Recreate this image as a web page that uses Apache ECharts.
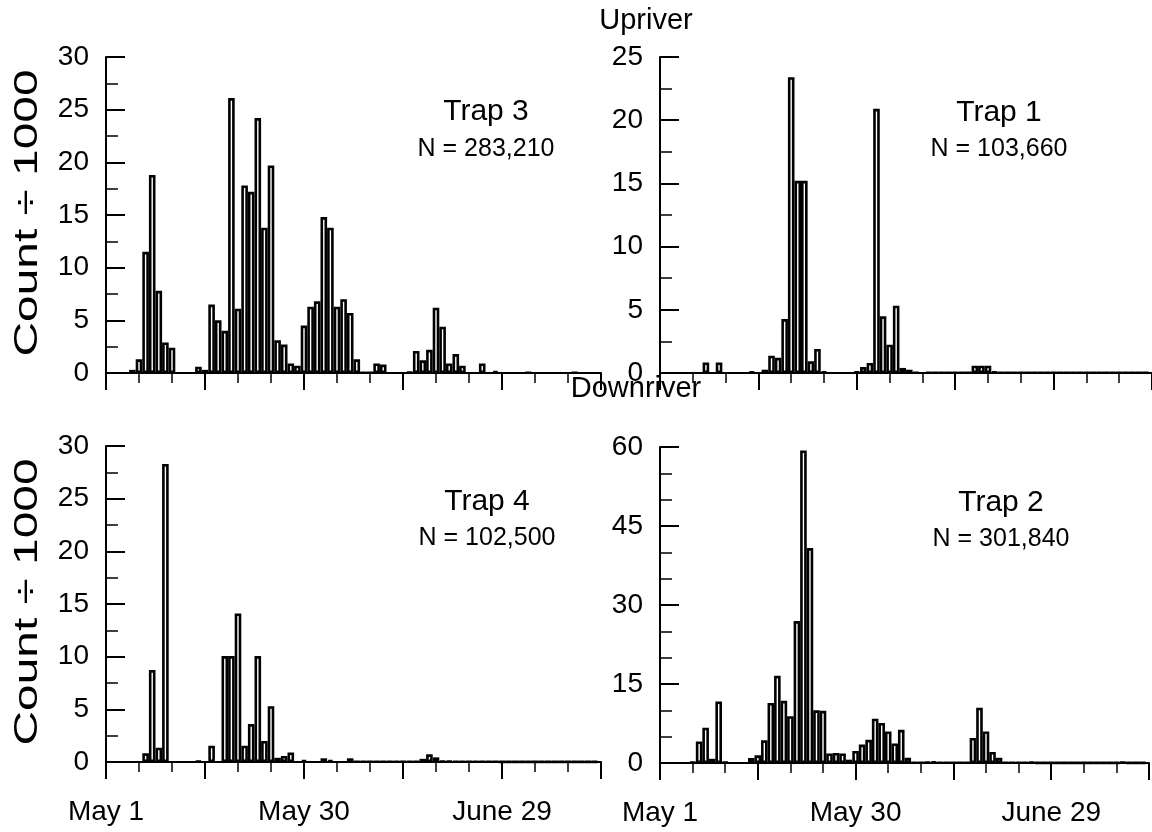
<!DOCTYPE html>
<html><head><meta charset="utf-8">
<script src="https://cdn.jsdelivr.net/npm/echarts@6/dist/echarts.min.js"></script>
<style>html,body{margin:0;padding:0;background:#fff}#c{width:1152px;height:832px}</style>
</head><body><div id="c"></div>
<script>
// Daily counts (thousands), index = days after May 1 (0..74)
const trap3 = [
  0,0,0,0,0.3,1.3,11.5,18.8,7.8,2.9,
  2.4,0,0,0,0.6,0.3,6.5,5.0,4.0,26.1,
  6.1,17.8,17.2,24.2,13.8,19.7,3.1,2.7,0.9,0.7,
  4.5,6.3,6.8,14.8,13.8,6.3,7.0,5.7,1.3,0.05,
  0.05,0.9,0.8,0,0,0,0.1,2.1,1.2,2.2,
  6.2,4.4,0.9,1.8,0.7,0,0,0.9,0,0.2,
  0,0,0,0,0.05,0,0,0,0,0,
  0,0.05,0,0,0
];
const trap1 = [
  0,0,0,0,0,0,0,0.84,0,0.84,
  0,0,0,0,0.13,0,0.26,1.37,1.2,4.27,
  23.4,15.2,15.2,0.92,1.9,0.13,0,0,0,0,
  0.1,0.47,0.8,20.9,4.48,2.24,5.33,0.4,0.26,0.05,
  0,0.05,0.03,0.03,0.03,0.03,0.03,0.03,0.58,0.58,
  0.58,0.1,0.03,0.03,0.03,0.03,0.03,0.03,0.03,0.03,
  0.03,0.03,0.03,0.03,0.03,0.03,0.03,0.03,0.03,0.03,
  0.03,0.03,0.03,0.03,0.03
];
const trap4 = [
  0,0,0,0,0,0,0.82,8.73,1.36,28.3,
  0,0,0,0,0.1,0,1.55,0,10.06,10.06,
  14.1,1.55,3.6,10.06,2.0,5.3,0.4,0.57,0.9,0,
  0.2,0,0,0.35,0.2,0,0,0.35,0.05,0.05,
  0.05,0.05,0.05,0.05,0.05,0.05,0.05,0.05,0.3,0.73,
  0.44,0.1,0.1,0.05,0.05,0.05,0.05,0.05,0.05,0.05,
  0.03,0.03,0.03,0.03,0.03,0.03,0.03,0.03,0.03,0.03,
  0.03,0.03,0.03,0.03,0.03
];
const trap2 = [
  0,0,0,0,0,0.2,4.1,6.7,0.8,11.7,
  0.2,0,0,0,0.95,1.46,4.3,11.4,16.55,11.8,
  8.9,26.95,59.35,40.8,10.0,9.9,1.8,1.9,1.8,0.63,
  2.3,3.5,4.4,8.4,7.6,6.0,3.7,6.3,1.0,0.1,
  0.1,0.2,0.3,0.1,0.1,0.1,0.1,0.1,4.75,10.5,
  6.0,2.1,1.0,0.1,0.1,0.1,0.1,0.2,0.05,0.05,
  0.05,0.05,0.05,0.05,0.05,0.05,0.05,0.05,0.05,0.05,
  0.05,0.15,0.05,0.05,0.05
];
const xLabelDays = [0, 30, 60];
const xLabelTexts = ['May 1', 'May 30', 'June 29'];
const trapNames = ['Trap 3', 'Trap 1', 'Trap 4', 'Trap 2'];
const trapTotals = ['N = 283,210', 'N = 103,660', 'N = 102,500', 'N = 301,840'];
const yMax = [30, 25, 30, 60];
const yStep = [5, 5, 5, 15];
const yMinorSplit = [2, 2, 2, 3];
const rowTitles = ['Upriver', 'Downriver'];
const yTitle = 'Count \u00f7 1000';

const FONT = "'Liberation Sans', Arial, sans-serif";
const seriesData = [trap3, trap1, trap4, trap2];
const layout = [
  {left: 106, top: 57, tx: 486, ty: 112, ny: 149},
  {left: 660, top: 57, tx: 999, ty: 113, ny: 149},
  {left: 106, top: 446, tx: 487, ty: 502, ny: 538},
  {left: 660, top: 447, tx: 1001, ty: 503, ny: 539}
];
const W = 495, H = 316, DAYS = 75;

const grids = [], xAxes = [], yAxes = [], series = [], graphics = [];
layout.forEach((p, i) => {
  grids.push({left: p.left, top: p.top, width: W, height: H});
  xAxes.push({
    type: 'value', gridIndex: i, min: 0, max: DAYS, interval: 15,
    axisLine: {show: true, onZero: false, lineStyle: {color: '#000', width: 2}},
    axisTick: {show: true, length: 17, lineStyle: {color: '#000', width: 2}},
    minorTick: {show: true, splitNumber: 3, length: 10, lineStyle: {color: '#000', width: 1.5}},
    splitLine: {show: false},
    axisLabel: {
      show: i >= 2, margin: 36, color: '#000', fontSize: 28, fontFamily: FONT,
      formatter: v => { const k = xLabelDays.indexOf(v); return k >= 0 ? xLabelTexts[k] : ''; }
    }
  });
  yAxes.push({
    type: 'value', gridIndex: i, min: 0, max: yMax[i], interval: yStep[i],
    axisLine: {show: true, lineStyle: {color: '#000', width: 2}},
    axisTick: {show: true, inside: true, length: 19, lineStyle: {color: '#000', width: 2}},
    minorTick: {show: true, splitNumber: yMinorSplit[i], length: 12, lineStyle: {color: '#000', width: 1.5}},
    splitLine: {show: false},
    axisLabel: {margin: 17, color: '#000', fontSize: 28, fontFamily: FONT}
  });
  series.push({
    type: 'bar', xAxisIndex: i, yAxisIndex: i,
    barWidth: W / DAYS,
    data: seriesData[i].map((v, d) => [d, v]).filter(p => p[1] > 0),
    itemStyle: {color: '#fff', borderColor: '#000', borderWidth: 2.6},
    emphasis: {disabled: true},
    animation: false
  });
  graphics.push({type: 'text', x: p.tx, y: p.ty, style: {text: trapNames[i], font: '30px ' + FONT, fill: '#000', align: 'center', verticalAlign: 'middle', textAlign: 'center', textVerticalAlign: 'middle'}});
  graphics.push({type: 'text', x: p.tx, y: p.ny, style: {text: trapTotals[i], font: '25px ' + FONT, fill: '#000', align: 'center', verticalAlign: 'middle', textAlign: 'center', textVerticalAlign: 'middle'}});
});
graphics.push({type: 'text', x: 646, y: 21, style: {text: rowTitles[0], font: '29px ' + FONT, fill: '#000', align: 'center', verticalAlign: 'middle', textAlign: 'center', textVerticalAlign: 'middle'}});
graphics.push({type: 'text', x: 636, y: 389, style: {text: rowTitles[1], font: '29px ' + FONT, fill: '#000', align: 'center', verticalAlign: 'middle', textAlign: 'center', textVerticalAlign: 'middle'}});
[213, 602].forEach(cy => {
  graphics.push({type: 'text', x: 28, y: cy, rotation: Math.PI / 2, scaleX: 1.45, scaleY: 1,
    style: {text: yTitle, font: '33px ' + FONT, fill: '#000', align: 'center', verticalAlign: 'middle', textAlign: 'center', textVerticalAlign: 'middle'}});
});

const chart = echarts.init(document.getElementById('c'), null, {renderer: 'canvas'});
chart.setOption({
  backgroundColor: '#fff',
  animation: false,
  grid: grids, xAxis: xAxes, yAxis: yAxes, series: series,
  graphic: {elements: graphics}
});
</script></body></html>
